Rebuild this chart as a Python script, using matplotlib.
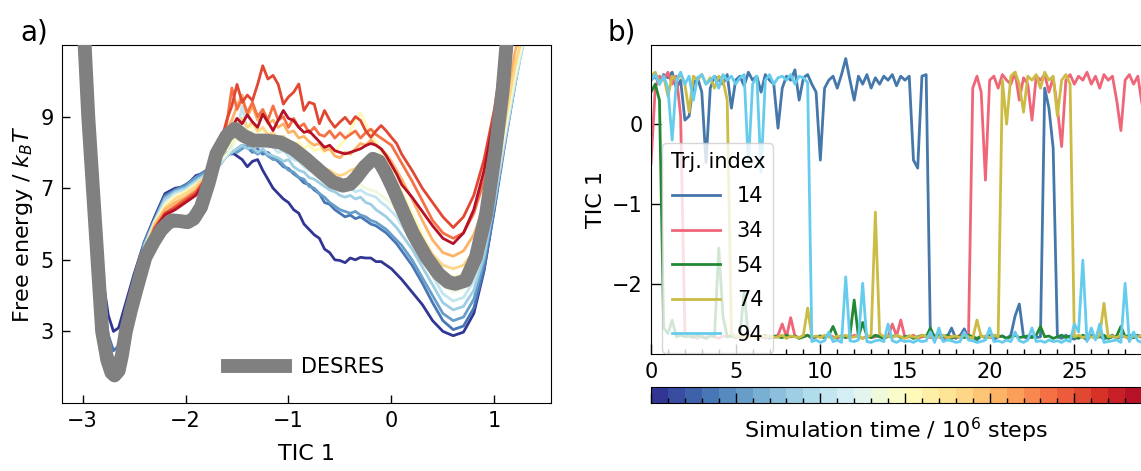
import numpy as np
import matplotlib
matplotlib.use("Agg")
import matplotlib.pyplot as plt
from matplotlib.colors import BoundaryNorm
from matplotlib.cm import ScalarMappable
from matplotlib.ticker import MultipleLocator

W, H = 1141, 471

# ---------------------------------------------------------------------------
# panel a: free energy profiles along TIC 1
# ---------------------------------------------------------------------------
TIC_GRID = [-3.0, -2.9, -2.8, -2.75, -2.7, -2.65, -2.6, -2.5, -2.4,
            -2.3, -2.2, -2.1, -2.0, -1.9,
            -1.8, -1.75, -1.7, -1.65, -1.6, -1.55, -1.5,
            -1.45, -1.4, -1.35, -1.3, -1.25, -1.2, -1.15,
            -1.1, -1.05, -1.0, -0.95, -0.9, -0.85, -0.8,
            -0.75, -0.7, -0.65, -0.6, -0.55, -0.5, -0.45,
            -0.4, -0.35, -0.3, -0.25, -0.2, -0.15, -0.1,
            -0.05, 0.0, 0.05, 0.1,
            0.2, 0.3, 0.4, 0.5, 0.6, 0.7, 0.8, 0.9, 1.0, 1.1, 1.2, 1.3]

fe_t00 = [12.0, 7.8, 4.4, 3.45, 3.0, 3.1, 3.6, 4.6, 5.5,
          6.2, 6.85, 7.0, 7.05, 7.35,
          7.45, 7.55, 7.6, 7.75, 7.9, 8.0, 7.9,
          7.8, 7.6, 7.75, 7.8, 7.5, 7.25, 7.0,
          6.85, 6.7, 6.6, 6.4, 6.3, 6.0, 5.85,
          5.7, 5.6, 5.3, 5.2, 5.0, 4.98, 4.92,
          5.05, 5.0, 5.07, 5.05, 5.05, 4.95, 4.95,
          4.85, 4.75, 4.6, 4.45,
          4.1, 3.75, 3.3, 3.0, 2.88, 2.98, 3.5, 4.7, 6.45, 8.35, 10.1, 11.8]
fe_t03 = [11.8, 7.5, 3.9, 2.9, 2.46, 2.6, 3.2, 4.5, 5.5,
          6.15, 6.8, 6.95, 7.1, 7.3,
          7.5, 7.5, 7.65, 7.8, 8.0, 7.95, 8.1,
          8.2, 8.15, 8.0, 8.1, 7.95, 8.0, 7.85,
          7.75, 7.6, 7.55, 7.4, 7.3, 7.15, 7.1,
          6.95, 6.85, 6.6, 6.55, 6.4, 6.3, 6.2,
          6.25, 6.15, 6.2, 6.1, 6.0, 5.95, 5.85,
          5.75, 5.6, 5.45, 5.25,
          4.85, 4.35, 3.8, 3.3, 3.05, 3.15, 3.65, 4.75, 6.4, 8.2, 9.9, 11.5]
fe_t05 = [11.7, 7.4, 3.7, 2.6, 2.21, 2.4, 3.0, 4.4, 5.45,
          6.1, 6.75, 6.95, 7.05, 7.3,
          7.45, 7.55, 7.6, 7.85, 7.95, 8.05, 8.0,
          8.1, 8.2, 8.05, 7.95, 8.05, 7.9, 7.8,
          7.8, 7.65, 7.5, 7.45, 7.3, 7.25, 7.05,
          7.0, 6.85, 6.75, 6.6, 6.5, 6.4, 6.35,
          6.3, 6.35, 6.25, 6.2, 6.1, 6.05, 5.95,
          5.85, 5.7, 5.55, 5.4,
          5.0, 4.5, 4.0, 3.5, 3.3, 3.4, 3.9, 4.95, 6.55, 8.3, 9.9, 11.4]
fe_t08 = [11.6, 7.3, 3.4, 2.3, 2.0, 2.2, 2.9, 4.3, 5.4,
          6.1, 6.7, 6.9, 7.0, 7.2,
          7.4, 7.5, 7.55, 7.7, 7.9, 8.0, 8.1,
          8.2, 8.1, 8.15, 8.0, 8.1, 7.95, 7.9,
          7.85, 7.75, 7.8, 7.6, 7.5, 7.45, 7.3,
          7.25, 7.15, 7.05, 6.95, 6.9, 6.8, 6.75,
          6.8, 6.7, 6.75, 6.6, 6.55, 6.4, 6.3,
          6.2, 6.05, 5.9, 5.7,
          5.3, 4.8, 4.3, 3.8, 3.6, 3.7, 4.15, 5.1, 6.6, 8.3, 9.9, 11.3]
fe_t10 = [11.6, 7.2, 3.3, 2.2, 1.95, 2.15, 2.85, 4.25, 5.35,
          6.05, 6.6, 6.85, 6.95, 7.15,
          7.35, 7.45, 7.6, 7.75, 7.9, 8.2, 8.5,
          9.3, 8.6, 8.5, 8.3, 8.35, 8.2, 8.15,
          8.0, 8.05, 7.9, 7.8, 7.75, 7.6, 7.5,
          7.45, 7.35, 7.3, 7.15, 7.1, 7.0, 6.95,
          7.0, 6.9, 6.95, 6.85, 6.8, 6.75, 6.6,
          6.5, 6.35, 6.2, 5.95,
          5.55, 5.05, 4.55, 4.05, 3.85, 3.95, 4.4, 5.3, 6.8, 8.4, 10.0, 11.3]
fe_t13 = [11.5, 7.2, 3.3, 2.2, 1.95, 2.15, 2.85, 4.2, 5.3,
          6.05, 6.55, 6.8, 6.9, 7.1,
          7.3, 7.4, 7.6, 7.8, 7.95, 8.1, 8.45,
          8.7, 8.5, 8.6, 8.4, 8.5, 8.3, 8.35,
          8.2, 8.1, 8.15, 8.0, 7.9, 7.85, 7.7,
          7.6, 7.55, 7.4, 7.3, 7.25, 7.15, 7.1,
          7.15, 7.05, 7.1, 7.0, 6.95, 6.9, 6.8,
          6.7, 6.55, 6.4, 6.2,
          5.8, 5.3, 4.8, 4.3, 4.1, 4.2, 4.65, 5.5, 6.9, 8.5, 10.1, 11.4]
fe_t15 = [11.5, 7.1, 3.2, 2.1, 1.9, 2.1, 2.8, 4.2, 5.3,
          6.0, 6.5, 6.75, 6.9, 7.1,
          7.3, 7.45, 7.65, 7.9, 8.1, 8.3, 8.55,
          8.7, 8.6, 8.8, 8.55, 8.65, 8.45, 8.5,
          8.4, 8.3, 8.35, 8.2, 8.3, 8.1, 8.2,
          8.05, 8.1, 8.0, 8.15, 8.0, 8.2, 8.35,
          8.6, 8.9, 9.1, 8.8, 8.5, 8.3, 8.0,
          7.8, 7.5, 7.2, 6.9,
          6.3, 5.7, 5.15, 4.7, 4.5, 4.6, 5.0, 5.8, 7.1, 8.7, 10.3, 11.5]
fe_t18 = [11.5, 7.1, 3.2, 2.1, 1.9, 2.1, 2.8, 4.15, 5.25,
          6.0, 6.45, 6.7, 6.85, 7.05,
          7.35, 7.5, 7.75, 8.0, 8.3, 8.55, 8.75,
          8.95, 8.7, 8.85, 8.6, 8.7, 8.5, 8.55,
          8.4, 8.45, 8.3, 8.2, 8.05, 7.95, 7.9,
          7.75, 7.7, 7.55, 7.5, 7.4, 7.35, 7.4,
          7.5, 7.55, 7.7, 7.8, 7.75, 7.7, 7.5,
          7.35, 7.15, 6.95, 6.7,
          6.15, 5.6, 5.15, 4.85, 4.75, 4.85, 5.25, 6.0, 7.3, 8.8, 10.4, 11.6]
fe_t20 = [11.5, 7.1, 3.2, 2.1, 1.9, 2.1, 2.8, 4.1, 5.2,
          5.95, 6.4, 6.6, 6.75, 6.95,
          7.3, 7.55, 7.85, 8.2, 8.6, 8.9, 9.3,
          9.6, 9.0, 9.3, 8.9, 9.1, 8.8, 8.9,
          8.7, 8.8, 8.55, 8.6, 8.4, 8.45, 8.3,
          8.2, 8.25, 8.05, 8.1, 7.9, 7.85, 8.0,
          7.95, 8.1, 8.25, 8.2, 8.35, 8.2, 8.1,
          7.95, 7.75, 7.5, 7.25,
          6.7, 6.1, 5.55, 5.2, 5.1, 5.25, 5.7, 6.5, 7.7, 9.2, 10.8, 12.0]
fe_t23 = [11.4, 7.0, 3.1, 2.05, 1.85, 2.05, 2.75, 4.05, 5.15,
          5.9, 6.3, 6.5, 6.7, 6.9,
          7.25, 7.6, 7.95, 8.4, 8.8, 9.8, 9.2,
          9.5, 9.1, 9.4, 9.0, 9.2, 8.9, 9.3,
          8.9, 9.0, 8.7, 8.95, 8.7, 8.8, 8.55,
          8.7, 8.5, 8.45, 8.6, 8.4, 8.55, 8.4,
          8.5, 8.6, 8.4, 8.55, 8.65, 8.5, 8.4,
          8.3, 8.2, 7.95, 7.7,
          7.2, 6.65, 6.1, 5.75, 5.6, 5.75, 6.3, 7.2, 8.5, 10.3, 12.0, 12.5]
fe_t25 = [11.4, 7.0, 3.1, 2.05, 1.85, 2.05, 2.75, 4.0, 5.1,
          5.85, 6.3, 6.45, 6.65, 6.85,
          7.3, 7.55, 7.9, 8.35, 8.9, 9.3, 9.9,
          9.4, 9.6, 9.45, 9.9, 10.42, 10.05, 10.15,
          9.9, 9.35, 9.55, 9.68, 9.91, 9.17, 9.4,
          9.35, 8.8, 9.17, 8.9, 8.7, 8.85, 8.98,
          8.8, 9.0, 8.89, 8.6, 8.42, 8.6, 8.75,
          8.6, 8.42, 8.25, 7.95,
          7.5, 7.0, 6.6, 6.2, 5.9, 6.2, 6.8, 7.8, 9.2, 11.1, 12.5, 13.0]
fe_t28 = [11.4, 7.0, 3.1, 2.05, 1.85, 2.05, 2.75, 4.0, 5.1,
          5.85, 6.25, 6.4, 6.6, 6.8,
          7.2, 7.5, 7.85, 8.25, 8.6, 8.7, 8.95,
          8.8, 9.05, 8.85, 8.7, 9.07, 8.85, 8.61,
          8.9, 9.17, 8.95, 8.89, 8.7, 8.56, 8.6,
          8.45, 8.3, 8.14, 8.2, 8.05, 8.0, 7.96,
          8.0, 8.05, 8.1, 8.19, 8.25, 8.2, 8.1,
          7.9, 7.65, 7.4, 7.1,
          6.75, 6.35, 5.95, 5.6, 5.45, 5.75, 6.4, 7.5, 9.0, 10.9, 12.5, 13.0]

FE_TIMES = [0.5, 3.0, 5.5, 8.0, 10.5, 13.0, 15.5, 18.0, 20.5, 23.0, 25.5, 28.5]
FE_CURVES = [fe_t00, fe_t03, fe_t05, fe_t08, fe_t10, fe_t13,
             fe_t15, fe_t18, fe_t20, fe_t23, fe_t25, fe_t28]

DESRES_X = [-3.0, -2.98, -2.945, -2.90, -2.855, -2.81, -2.76, -2.72, -2.69, -2.65,
            -2.62, -2.58, -2.53, -2.48, -2.39, -2.31, -2.24, -2.18, -2.13, -2.05,
            -1.98, -1.92, -1.85, -1.78, -1.70, -1.60, -1.52, -1.44, -1.34, -1.21,
            -1.08, -0.955, -0.83, -0.70, -0.57, -0.47, -0.40, -0.34, -0.26, -0.18,
            -0.12, -0.06, 0.01, 0.11, 0.21, 0.34, 0.46, 0.55, 0.62, 0.72,
            0.82, 0.92, 1.01, 1.08, 1.12, 1.14]
DESRES_Y = [11.8, 11.0, 9.0, 7.0, 5.0, 3.0, 2.2, 1.85, 1.77, 1.9,
            2.3, 3.0, 3.6, 4.14, 5.07, 5.5, 5.82, 6.0, 6.1, 6.08,
            6.05, 6.15, 6.47, 7.1, 7.96, 8.47, 8.66, 8.47, 8.33, 8.33,
            8.28, 8.1, 7.82, 7.49, 7.17, 7.07, 7.12, 7.3, 7.6, 7.82,
            7.75, 7.45, 7.03, 6.37, 5.73, 5.07, 4.6, 4.38, 4.33, 4.42,
            5.07, 6.28, 8.05, 9.73, 11.1, 11.8]

# ---------------------------------------------------------------------------
# panel b: TIC 1 time series, sampled every 0.25 x 10^6 steps from 0 to 30
# ---------------------------------------------------------------------------
TRJ_LABELS = ["14", "34", "54", "74", "94"]
TRJ_COLORS = ["#4477AA", "#EE6677", "#228833", "#CCBB44", "#66CCEE"]

tic_14 = [0.55, 0.6, 0.5, 0.62, 0.58, 0.65, 0.45, 0.55,
          0.05, 0.1, 0.5, 0.58, 0.4, -0.48, 0.45, 0.6,
          0.55, 0.5, 0.62, 0.2, 0.55, 0.6, 0.48, 0.65,
          0.55, 0.6, 0.4, 0.62, 0.55, 0.5, -0.05, 0.45,
          0.6, 0.55, 0.68, 0.3, 0.58, 0.62, 0.5, 0.4,
          -0.45, 0.45, 0.55, 0.6, 0.45, 0.62, 0.82, 0.55,
          0.3, 0.6, 0.5, 0.62, 0.45, 0.58, 0.5, 0.6,
          0.55, 0.62, 0.48, 0.6, 0.55, 0.6, -0.45, -0.55,
          0.6, 0.62, -2.66, -2.68, -2.64, -2.7, -2.66, -2.55,
          -2.68, -2.65, -2.56, -2.68, -2.66, -2.7, -2.65, -2.67,
          -2.64, -2.69, -2.66, -2.65, -2.68, -2.64, -2.4, -2.25,
          -2.66, -2.68, -2.65, -2.67, -2.66, 0.45, 0.2, -0.3,
          -2.66, -2.68, -2.64, -2.67, -2.69, -2.65, -2.66, -2.7,
          -2.64, -2.67, -2.65, -2.69, -2.66, -2.64, -2.68, -2.66,
          -2.65, -2.69, -2.66, -2.64, -2.67, -2.66, -2.68, -2.65,
          -2.66]
tic_34 = [-0.5, 0.45, 0.6, 0.55, 0.65, 0.5, 0.6, 0.1,
          -2.6, -2.66, -2.64, -2.68, -2.65, -2.67, -2.63, -2.66,
          -2.68, -2.65, -2.66, -2.64, -2.67, -2.65, -2.68, -2.66,
          -2.64, -2.67, -2.66, -2.68, -2.65, -2.66, -2.64, -2.5,
          -2.66, -2.42, -2.65, -2.67, -2.66, -2.64, -2.68, -2.66,
          -2.65, -2.67, -2.64, -2.66, -2.68, -2.65, -2.66, -2.67,
          -2.64, -2.66, -2.68, -2.65, -2.67, -2.66, -2.64, -2.67,
          -2.66, -2.5, -2.65, -2.45, -2.67, -2.66, -2.64, -2.68,
          -2.66, -2.65, -2.67, -2.64, -2.66, -2.68, -2.65, -2.66,
          -2.67, -2.64, -2.66, -2.66, 0.45, 0.6, 0.4, -0.7,
          0.55, 0.6, 0.45, 0.62, 0.55, 0.5, 0.65, 0.3,
          0.58, 0.5, 0.05, 0.6, 0.55, 0.62, 0.4, 0.58,
          0.2, -0.28, 0.55, 0.62, 0.5, 0.6, 0.55, 0.65,
          0.5, 0.6, 0.45, 0.62, 0.55, 0.6, 0.3, -0.08,
          0.55, 0.62, 0.5, 0.6, 0.25, 0.55, 0.6, 0.5,
          0.58]
tic_54 = [0.4, 0.5, 0.3, -2.55, -2.62, -2.45, -2.66, -2.64,
          -2.66, -2.65, -2.67, -2.64, -2.66, -2.68, -2.65, -2.66,
          -1.55, -2.4, -2.66, -2.65, -2.67, -2.64, -2.1, -2.66,
          -2.65, -2.67, -2.66, -2.64, -2.68, -2.65, -2.66, -2.67,
          -2.64, -2.66, -2.65, -2.68, -2.66, -2.64, -2.67, -2.66,
          -2.65, -2.67, -2.64, -2.53, -2.66, -2.65, -2.67, -2.64,
          -2.2, -2.66, -2.48, -2.65, -2.67, -2.64, -2.66, -2.68,
          -2.65, -2.66, -2.64, -2.67, -2.66, -2.65, -2.68, -2.66,
          -2.64, -2.66, -2.55, -2.67, -2.65, -2.66, -2.64, -2.68,
          -2.66, -2.65, -2.67, -2.64, -2.66, -2.68, -2.65, -2.66,
          -2.67, -2.64, -2.66, -2.65, -2.68, -2.66, -2.64, -2.67,
          -2.66, -2.65, -2.67, -2.64, -2.53, -2.66, -2.65, -2.68,
          -2.66, -2.64, -2.67, -2.65, -2.66, -2.68, -2.64, -2.66,
          -2.65, -2.67, -2.66, -2.64, -2.68, -2.66, -2.65, -2.53,
          -2.66, -2.64, -2.67, -2.65, -2.66, -2.68, -2.64, -2.66,
          -2.65]
tic_74 = [0.6, 0.65, 0.5, 0.6, 0.35, 0.6, 0.55, 0.62,
          0.5, 0.15, 0.6, 0.55, 0.62, 0.5, 0.58, 0.45,
          0.6, 0.55, 0.3, -2.62, -2.66, -2.64, -2.67, -2.65,
          -2.66, -2.68, -2.64, -2.66, -2.65, -2.67, -2.66, -2.64,
          -2.68, -2.65, -2.66, -2.67, -2.64, -2.3, -2.66, -2.65,
          -2.67, -2.64, -2.66, -2.68, -2.65, -2.66, -2.64, -2.67,
          -2.66, -2.65, -2.68, -2.66, -2.64, -1.1, -2.62, -2.66,
          -2.65, -2.67, -2.64, -2.66, -2.68, -2.65, -2.66, -2.67,
          -2.64, -2.66, -2.65, -2.68, -2.66, -2.64, -2.67, -2.66,
          -2.65, -2.67, -2.64, -2.66, -2.68, -2.45, -2.66, -2.65,
          -2.67, -2.64, -2.66, 0.55, 0.0, 0.6, 0.65, 0.5,
          0.15, 0.6, 0.55, 0.62, 0.45, 0.65, 0.55, 0.6,
          0.1, 0.55, 0.62, 0.5, -2.66, -2.64, -2.67, -2.65,
          -2.66, -2.68, -2.64, -2.24, -2.66, -2.65, -2.67, -2.64,
          -2.66, -2.68, -2.65, -2.66, -2.64, -2.67, -2.66, -2.65,
          -2.66]
tic_94 = [0.55, 0.62, 0.5, 0.6, 0.45, -0.2, 0.55, 0.65,
          0.5, 0.6, 0.3, 0.58, 0.62, 0.5, 0.55, 0.6,
          0.45, 0.62, 0.55, 0.6, 0.5, 0.58, 0.62, -0.5,
          0.5, 0.6, -0.6, 0.55, 0.62, 0.5, 0.58, 0.6,
          0.55, 0.62, 0.5, 0.6, 0.58, 0.52, -2.72, -2.7,
          -2.73, -2.71, -2.6, -2.72, -2.7, -2.73, -1.91, -2.71,
          -2.72, -2.7, -1.99, -2.72, -2.73, -2.71, -2.7, -2.72,
          -2.5, -2.71, -2.73, -2.7, -2.72, -2.71, -2.73, -2.7,
          -2.72, -2.71, -2.6, -2.73, -2.55, -2.72, -2.7, -2.71,
          -2.73, -2.72, -2.6, -2.7, -2.71, -2.73, -2.72, -2.7,
          -2.55, -2.72, -2.71, -2.73, -2.7, -2.72, -2.6, -2.71,
          -2.73, -2.7, -2.55, -2.72, -2.71, -2.73, -2.7, -2.72,
          -2.71, -2.73, -2.7, -2.72, -2.5, -2.6, -1.7, -2.72,
          -2.55, -2.7, -2.5, -2.73, -2.72, -2.71, -2.7, -2.73,
          -1.99, -2.72, -2.6, -2.71, -2.73, -2.7, -2.72, -2.71,
          -2.72]
TRJ_SERIES = [tic_14, tic_34, tic_54, tic_74, tic_94]
SIM_TIME = np.arange(len(tic_14)) * 0.25

# ---------------------------------------------------------------------------
plt.rcParams["font.family"] = ["DejaVu Sans"]
plt.rcParams["mathtext.fontset"] = "dejavusans"
plt.rcParams["font.size"] = 15
plt.rcParams["axes.labelsize"] = 16

fig = plt.figure(figsize=(W / 100, H / 100), dpi=100)

cmap = plt.get_cmap("RdYlBu_r", 30)
norm = BoundaryNorm(np.arange(31), 30)

# --- panel a ---
axA = fig.add_axes([62 / W, 1 - 403 / H, 489 / W, 358 / H])
for t, fe in zip(FE_TIMES, FE_CURVES):
    axA.plot(TIC_GRID, fe, color=cmap(norm(t)), lw=2)
axA.plot(DESRES_X, DESRES_Y, color="#808080", lw=10, label="DESRES",
         solid_joinstyle="round", zorder=5)
axA.set_xlim(-3.2, 1.55)
axA.set_ylim(1, 11)
axA.set_xticks([-3, -2, -1, 0, 1])
axA.set_yticks([3, 5, 7, 9])
axA.tick_params(direction="in", length=6, width=1, pad=6)
axA.set_xlabel("TIC 1", labelpad=9)
axA.set_ylabel("Free energy / $k_BT$")
axA.legend(loc="lower center", bbox_to_anchor=(0.5, 0.02), frameon=False,
           handlelength=2.7)

# --- panel b (axis runs past the right edge of the figure) ---
axB = fig.add_axes([651 / W, 1 - 354 / H, 508 / W, 309 / H])
for lab, col, ys in zip(TRJ_LABELS, TRJ_COLORS, TRJ_SERIES):
    axB.plot(SIM_TIME, ys, color=col, lw=2, label=lab)
axB.set_xlim(0, 30)
axB.set_ylim(-2.875, 0.99)
axB.set_xticks(np.arange(0, 26, 5))
axB.xaxis.set_minor_locator(MultipleLocator(1))
axB.set_yticks([0, -1, -2])
axB.tick_params(which="both", direction="in", width=1, pad=6)
axB.tick_params(which="major", length=7)
axB.tick_params(which="minor", length=3.5)
axB.spines["right"].set_visible(False)
axB.set_ylabel("TIC 1")
axB.legend(title="Trj. index", loc="lower left", bbox_to_anchor=(0.022, 0.003),
           borderaxespad=0, handlelength=2.3, labelspacing=0.7,
           fontsize=15, title_fontsize=15)

# --- colorbar under panel b ---
cax = fig.add_axes([651 / W, 1 - 403 / H, 508 / W, 16 / H])
cb = fig.colorbar(ScalarMappable(norm=norm, cmap=cmap), cax=cax,
                  orientation="horizontal", ticks=np.arange(0, 31, 5))
cax.xaxis.set_minor_locator(MultipleLocator(1))
cax.tick_params(which="both", direction="in", labelbottom=False, width=1)
cax.tick_params(which="major", length=7)
cax.tick_params(which="minor", length=3.5)
cb.set_label("Simulation time / $10^6$ steps", fontsize=16)
cax.xaxis.set_label_coords(0.482, -0.8)

fig.text(20 / W, 1 - 33 / H, "a)", fontsize=20, ha="left", va="center")
fig.text(608 / W, 1 - 33 / H, "b)", fontsize=20, ha="left", va="center")

fig.savefig("out.png", dpi=100)
